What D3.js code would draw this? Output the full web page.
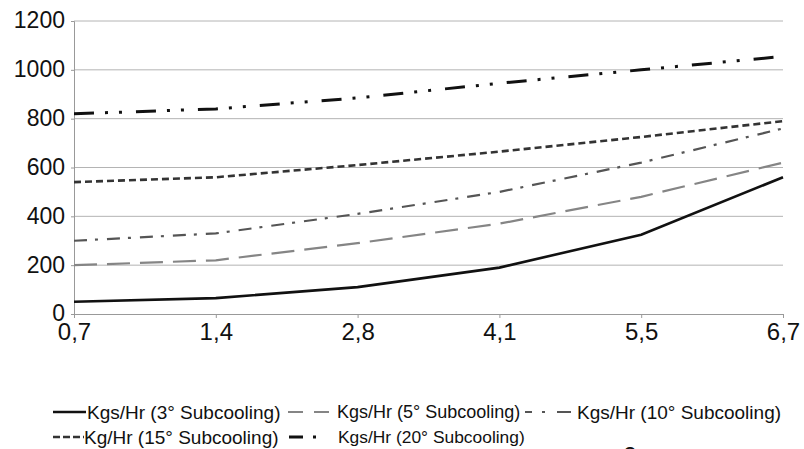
<!DOCTYPE html>
<html>
<head>
<meta charset="utf-8">
<script src="https://cdn.jsdelivr.net/npm/d3@7"></script>
<style>
  body { margin: 0; background: #fff; }
  svg { display: block; }
  text { font-family: "Liberation Sans", Arial, sans-serif; fill: #111; }
</style>
</head>
<body>
<script>
// data
var categories = ['0,7', '1,4', '2,8', '4,1', '5,5', '6,7'];
var yTicks = [0, 200, 400, 600, 800, 1000, 1200];
var sub3 = [50, 65, 110, 190, 325, 560];
var sub5 = [200, 220, 290, 370, 480, 620];
var sub10 = [300, 330, 410, 500, 620, 760];
var sub15 = [540, 560, 610, 665, 725, 790];
var sub20 = [820, 840, 885, 945, 1000, 1055];
var seriesNames = [
  'Kgs/Hr (3° Subcooling)',
  'Kgs/Hr (5° Subcooling)',
  'Kgs/Hr (10° Subcooling)',
  'Kg/Hr (15° Subcooling)',
  'Kgs/Hr (20° Subcooling)'
];

var svgWidth = 804, svgHeight = 449;
var plotLeft = 74, plotRight = 783, plotTop = 21, plotBottom = 314;

// line styles per series
var styles = [
  { color: '#111', w: 2.6, dash: null },
  { color: '#858585', w: 2.2, dash: '23,10' },
  { color: '#555', w: 2.2, dash: '13,8,3,9' },
  { color: '#333', w: 2.6, dash: '7,4' },
  { color: '#111', w: 3, dash: '20,11,3,11,3,14' }
];

var series = [sub3, sub5, sub10, sub15, sub20];

var svg = d3.select('body').append('svg')
  .attr('width', svgWidth)
  .attr('height', svgHeight);

var x = d3.scalePoint().domain(categories).range([plotLeft, plotRight]);
var y = d3.scaleLinear().domain([0, 1200]).range([plotBottom, plotTop]);

// gridlines
svg.selectAll('line.grid')
  .data(yTicks.slice(1))
  .enter()
  .append('line')
  .attr('class', 'grid')
  .attr('x1', plotLeft)
  .attr('x2', plotRight)
  .attr('y1', function(d) { return y(d); })
  .attr('y2', function(d) { return y(d); })
  .attr('stroke', '#b4b4b4')
  .attr('stroke-width', 1);

// y axis
var yAxis = svg.append('g')
  .attr('transform', 'translate(' + plotLeft + ',0)')
  .call(d3.axisLeft(y).tickValues(yTicks).tickFormat(d3.format('d')).tickSize(3).tickPadding(6));
yAxis.select('.domain').attr('stroke', '#999');
yAxis.selectAll('.tick line').attr('stroke', '#999');
yAxis.selectAll('.tick text')
  .attr('font-size', 23)
  .attr('dy', '0.3em')
  .style('font-family', '"Liberation Sans", Arial, sans-serif')
  .attr('fill', '#111');

// x axis
var xAxis = svg.append('g')
  .attr('transform', 'translate(0,' + plotBottom + ')')
  .call(d3.axisBottom(x).tickSize(4).tickPadding(5));
xAxis.select('.domain').attr('stroke', '#999');
xAxis.selectAll('.tick line').attr('stroke', '#999');
xAxis.selectAll('.tick text')
  .attr('font-size', 24)
  .style('font-family', '"Liberation Sans", Arial, sans-serif')
  .attr('fill', '#111');

// series lines
var line = d3.line()
  .x(function(d, i) { return x(categories[i]); })
  .y(function(d) { return y(d); });

svg.selectAll('path.series')
  .data(series)
  .enter()
  .append('path')
  .attr('class', 'series')
  .attr('d', function(d) { return line(d); })
  .attr('fill', 'none')
  .attr('stroke', function(d, i) { return styles[i].color; })
  .attr('stroke-width', function(d, i) { return styles[i].w; })
  .attr('stroke-dasharray', function(d, i) { return styles[i].dash; });

// legend
var legendPos = [
  { x: 53, y: 412, len: 33, tx: 34, fs: 19 },
  { x: 288, y: 412, len: 42, tx: 49, fs: 18 },
  { x: 525, y: 412, len: 46, tx: 52, fs: 19 },
  { x: 53, y: 437, len: 31, tx: 31, fs: 19 },
  { x: 289, y: 437, len: 33, tx: 49, fs: 17.4 }
];
var legendDash = [null, '15,11', '7,10,3,12,14,20', '7,3', '14,10,3,20'];

var items = svg.selectAll('g.legend')
  .data(seriesNames)
  .enter()
  .append('g')
  .attr('class', 'legend')
  .attr('transform', function(d, i) { return 'translate(' + legendPos[i].x + ',' + legendPos[i].y + ')'; });

items.append('line')
  .attr('x1', 0)
  .attr('x2', function(d, i) { return legendPos[i].len; })
  .attr('y1', 0)
  .attr('y2', 0)
  .attr('stroke', function(d, i) { return styles[i].color; })
  .attr('stroke-width', function(d, i) { return styles[i].w; })
  .attr('stroke-dasharray', function(d, i) { return legendDash[i]; });

items.append('text')
  .attr('x', function(d, i) { return legendPos[i].tx; })
  .attr('y', 0)
  .attr('dy', '0.36em')
  .attr('font-size', function(d, i) { return legendPos[i].fs; })
  .text(function(d) { return d; });

// cut-off page number at the bottom edge
svg.append('text')
  .attr('x', 630)
  .attr('y', 464)
  .attr('text-anchor', 'middle')
  .attr('font-size', 24)
  .text('2');
</script>
</body>
</html>
